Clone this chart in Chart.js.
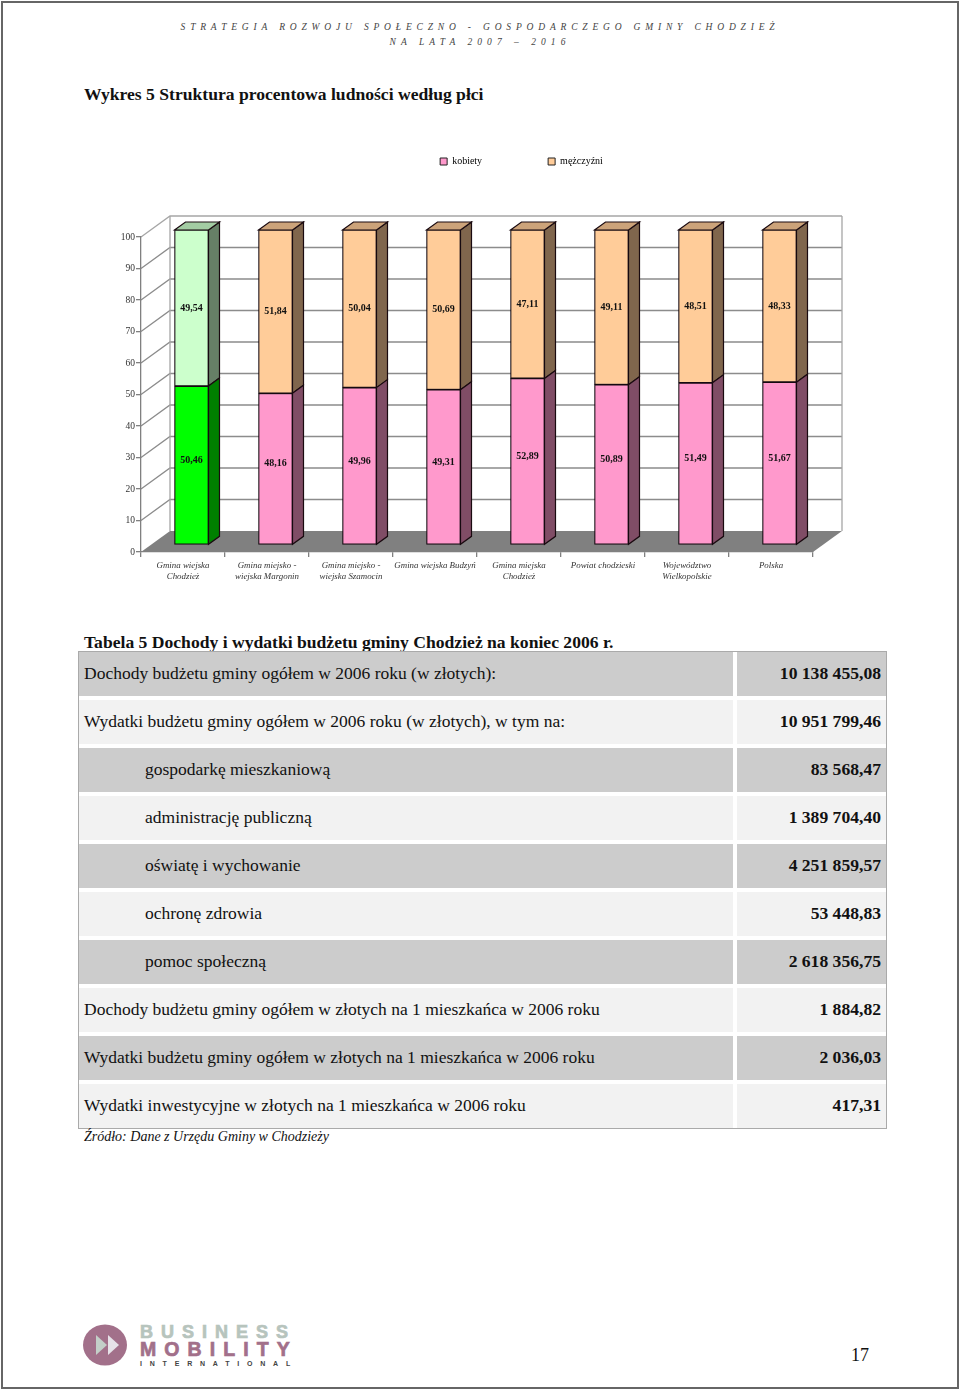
<!DOCTYPE html>
<html lang="pl">
<head>
<meta charset="utf-8">
<title>Wykres 5</title>
<script src="https://cdn.jsdelivr.net/npm/chart.js@4/dist/chart.umd.min.js"></script>
<style>
html,body{margin:0;padding:0;background:#fff}
body{width:960px;height:1390px;position:relative;overflow:hidden;font-family:"Liberation Serif",serif;color:#111}
.frame{position:absolute;left:1px;top:1px;right:1px;bottom:1px;border:2px solid #666}
.abs{position:absolute;white-space:nowrap}
.head{font-style:italic;font-size:9.5px;color:#444;left:0;width:960px;text-align:center}
h2{position:absolute;left:84px;margin:0;font-size:17.6px;font-weight:bold;white-space:nowrap;line-height:20px}
#chart-box{position:absolute;left:84px;top:87px;width:876px;height:505px}
#tbl{position:absolute;left:79px;top:652px;width:807px;height:476px;outline:1px solid #aaa}
.row{position:absolute;left:0;height:44px;line-height:43px;font-size:17.5px}
.lab{width:654px}
.val{left:658px;width:149px;text-align:right;font-weight:bold;font-size:17.6px}
.lab span,.val span{padding:0 5px}
.lab.ind span{padding-left:66px}
.g{background:#ccc}.l{background:#f2f2f2}
.logo{font-family:"Liberation Sans";font-weight:bold}
</style>
</head>
<body>
<div class="frame"></div>
<div class="abs head" style="top:22px;letter-spacing:4.82px">STRATEGIA ROZWOJU SPOŁECZNO - GOSPODARCZEGO GMINY CHODZIEŻ</div>
<div class="abs head" style="top:37px;letter-spacing:5.04px">NA LATA 2007 – 2016</div>
<h2 style="top:84px">Wykres 5 Struktura procentowa ludności według płci</h2>
<div id="chart-box"><canvas id="myChart"></canvas></div>
<h2 style="top:632px">Tabela 5 Dochody i wydatki budżetu gminy Chodzież na koniec 2006 r.</h2>
<div id="tbl"></div>
<div class="abs" style="left:84px;top:1129px;font-size:14px;font-style:italic">Źródło: Dane z Urzędu Gminy w Chodzieży</div>
<svg class="abs" style="left:83px;top:1323px" width="46" height="44">
	<ellipse cx="22" cy="22" rx="22" ry="20.5" fill="#a2708a"/>
	<polygon points="13,12 13,32 24,22" fill="#c3cfc8"/>
	<polygon points="25,12 25,32 36,22" fill="#e6e2e8"/>
</svg>
<div class="abs logo" style="left:140px;top:1322px;font-size:18px;letter-spacing:8px;color:#b7c4bd;-webkit-text-stroke:.7px #b7c4bd">BUSINESS</div>
<div class="abs logo" style="left:140px;top:1338px;font-size:19.5px;letter-spacing:8.1px;color:#a2708a;-webkit-text-stroke:.7px #a2708a">MOBILITY</div>
<div class="abs logo" style="left:140px;top:1360px;font-size:7px;letter-spacing:7.8px;color:#444">INTERNATIONAL</div>
<div class="abs" style="left:851px;top:1345px;font-size:18px">17</div>
<script>
var categories = [
	["Gmina wiejska","Chodzież"],
	["Gmina miejsko -","wiejska Margonin"],
	["Gmina miejsko -","wiejska Szamocin"],
	"Gmina wiejska Budzyń",
	["Gmina miejska","Chodzież"],
	"Powiat chodzieski",
	["Województwo","Wielkopolskie"],
	"Polska"
]
var kobiety = [50.46,48.16,49.96,49.31,52.89,50.89,51.49,51.67]
var mezczyzni = [49.54,51.84,50.04,50.69,47.11,49.11,48.51,48.33]
var yTicks = [0,10,20,30,40,50,60,70,80,90,100]

var tableRows = [
	"Dochody budżetu gminy ogółem w 2006 roku (w złotych):",
	"Wydatki budżetu gminy ogółem w 2006 roku (w złotych), w tym na:",
	"gospodarkę mieszkaniową",
	"administrację publiczną",
	"oświatę i wychowanie",
	"ochronę zdrowia",
	"pomoc społeczną",
	"Dochody budżetu gminy ogółem w złotych na 1 mieszkańca w 2006 roku",
	"Wydatki budżetu gminy ogółem w złotych na 1 mieszkańca w 2006 roku",
	"Wydatki inwestycyjne w złotych na 1 mieszkańca w 2006 roku"
]
var tableValues = ["10 138 455,08","10 951 799,46","83 568,47","1 389 704,40","4 251 859,57","53 448,83","2 618 356,75","1 884,82","2 036,03","417,31"]
var indented = [2,3,4,5,6]

// table
var tbl = document.getElementById("tbl")
for (var i = 0; i < tableRows.length; i++) {
	var shade = i % 2 == 0 ? "g" : "l"
	var a = document.createElement("div")
	a.className = "row lab " + shade + (indented.indexOf(i) >= 0 ? " ind" : "")
	a.style.top = (i * 48) + "px"
	a.innerHTML = "<span>" + tableRows[i] + "</span>"
	var b = document.createElement("div")
	b.className = "row val " + shade
	b.style.top = (i * 48) + "px"
	b.innerHTML = "<span>" + tableValues[i] + "</span>"
	tbl.appendChild(a)
	tbl.appendChild(b)
}

// colours of the faces, first bar is highlighted
var pink = "#ff99cc", peach = "#ffcc99", green = "#00ff00", mint = "#ccffcc"
var kobietyFill = categories.map(function(c,i){ return i == 0 ? green : pink })
var mezczyzniFill = categories.map(function(c,i){ return i == 0 ? mint : peach })

function shadeHex(hex, f){
	var n = parseInt(hex.slice(1),16)
	return "rgb(" + Math.round((n>>16)*f) + "," + Math.round(((n>>8)&255)*f) + "," + Math.round((n&255)*f) + ")"
}

var wallDx = 29, wallDy = -21   // depth of the box
var barDx = 8.5, barDy = -7     // bars stand in the middle of it
var sideDx = 11, sideDy = -8    // depth of a bar
var topGap = 64                 // room between legend and plot
var legendLift = 60.5

function poly(ctx, pts, fill, stroke){
	ctx.beginPath()
	pts.forEach(function(p,i){ i ? ctx.lineTo(p[0],p[1]) : ctx.moveTo(p[0],p[1]) })
	ctx.closePath()
	if (fill) { ctx.fillStyle = fill; ctx.fill() }
	if (stroke) { ctx.strokeStyle = stroke; ctx.lineWidth = 1.2; ctx.stroke() }
}

var box3d = {
	id: "box3d",
	afterLayout: function(chart){
		// legend is centred on the whole page block, not on the plot
		chart.legend.left += 73
		chart.legend.right += 73
		chart.legend.top -= legendLift
		chart.legend.bottom -= legendLift
	},
	beforeDraw: function(chart){
		var ctx = chart.ctx, x = chart.scales.x, y = chart.scales.y
		var l = x.left, r = x.right, b = y.getPixelForValue(0)
		ctx.save()
		poly(ctx, [[l,b],[r,b],[r+wallDx,b+wallDy],[l+wallDx,b+wallDy]], "#808080")
		ctx.lineWidth = 1.3
		yTicks.forEach(function(v){
			var py = y.getPixelForValue(v)
			ctx.strokeStyle = v == 100 ? "#a6a6a6" : "#8c8c8c"
			ctx.beginPath()
			if (v > 0) {
				ctx.moveTo(l, py)
				ctx.lineTo(l+wallDx, py+wallDy)
				ctx.lineTo(r+wallDx, py+wallDy)
			}
			ctx.stroke()
		})
		ctx.strokeStyle = "#a6a6a6"
		ctx.beginPath()
		ctx.moveTo(l+wallDx, b+wallDy)
		ctx.lineTo(l+wallDx, y.getPixelForValue(100)+wallDy)
		ctx.moveTo(r+wallDx, b+wallDy)
		ctx.lineTo(r+wallDx, y.getPixelForValue(100)+wallDy)
		ctx.stroke()
		ctx.restore()
	},
	beforeDatasetsDraw: function(chart){
		chart.ctx.save()
		chart.ctx.translate(barDx, barDy)
	},
	beforeDatasetDraw: function(chart, args){
		var ctx = chart.ctx
		var top = args.index == 1
		args.meta.data.forEach(function(bar,i){
			var fill = chart.data.datasets[args.index].backgroundColor[i]
			var xr = bar.x + bar.width/2, xl = bar.x - bar.width/2
			poly(ctx, [[xr,bar.y],[xr+sideDx,bar.y+sideDy],[xr+sideDx,bar.base+sideDy],[xr,bar.base]], shadeHex(fill,0.5), "#1a0a10")
			if (top) poly(ctx, [[xl,bar.y],[xl+sideDx,bar.y+sideDy],[xr+sideDx,bar.y+sideDy],[xr,bar.y]], shadeHex(fill,0.8), "#1a0a10")
		})
	},
	afterDatasetsDraw: function(chart){
		var ctx = chart.ctx
		ctx.fillStyle = "#111"
		ctx.font = "bold 10px 'Liberation Serif'"
		ctx.textAlign = "center"
		ctx.textBaseline = "middle"
		chart.data.datasets.forEach(function(ds,d){
			chart.getDatasetMeta(d).data.forEach(function(bar,i){
				var lift = d == 0 ? -5 : 0
				ctx.fillText(ds.data[i].toFixed(2).replace(".",","), bar.x, (bar.y+bar.base)/2 + lift)
			})
		})
		ctx.restore()
	}
}

var myChart = document.getElementById("myChart").getContext("2d")
var chart = new Chart(myChart,{
	type: "bar",
	plugins: [box3d],
	data: {
		labels: categories,
		datasets: [
			{ label: "kobiety", data: kobiety, backgroundColor: kobietyFill },
			{ label: "mężczyźni", data: mezczyzni, backgroundColor: mezczyzniFill }
		]
	},
	options: {
		responsive: true,
		maintainAspectRatio: false,
		animation: false,
		devicePixelRatio: 1,
		layout: { padding: { left: 0, right: 147, top: topGap, bottom: 0 } },
		datasets: { bar: { barThickness: 34, borderColor: "#150a10", borderWidth: 1.2, borderSkipped: false, clip: false } },
		plugins: {
			tooltip: { enabled: false },
			legend: {
				position: "top",
				labels: {
					boxWidth: 7,
					boxHeight: 7,
					padding: 66,
					color: "#222",
					font: { family: "Liberation Serif", size: 10 },
					generateLabels: function(c){
						return [
							{ text: "kobiety", fillStyle: pink, strokeStyle: "#222", lineWidth: 1, datasetIndex: 0 },
							{ text: "mężczyźni", fillStyle: peach, strokeStyle: "#222", lineWidth: 1, datasetIndex: 1 }
						]
					}
				}
			}
		},
		scales: {
			x: {
				stacked: true,
				afterFit: function(s){ s.height = 40 },
				grid: { drawOnChartArea: false, drawTicks: true, tickLength: 5, color: "#808080", lineWidth: 1.3 },
				border: { color: "#808080", width: 1.3 },
				ticks: {
					autoSkip: false, maxRotation: 0, minRotation: 0, padding: 3, color: "#333",
					font: { family: "Liberation Serif", size: 8.9, style: "italic", lineHeight: 1.25 }
				}
			},
			y: {
				stacked: true,
				min: 0,
				max: 100,
				afterFit: function(s){ s.width = 57 },
				afterBuildTicks: function(s){ s.ticks = yTicks.map(function(v){ return { value: v } }) },
				grid: { drawOnChartArea: false, drawTicks: true, tickLength: 5, color: "#808080", lineWidth: 1.3 },
				border: { color: "#808080", width: 1.3 },
				ticks: {
					padding: 1, color: "#333",
					font: { family: "Liberation Serif", size: 9.5 }
				}
			}
		}
	}
})
</script>
</body>
</html>
